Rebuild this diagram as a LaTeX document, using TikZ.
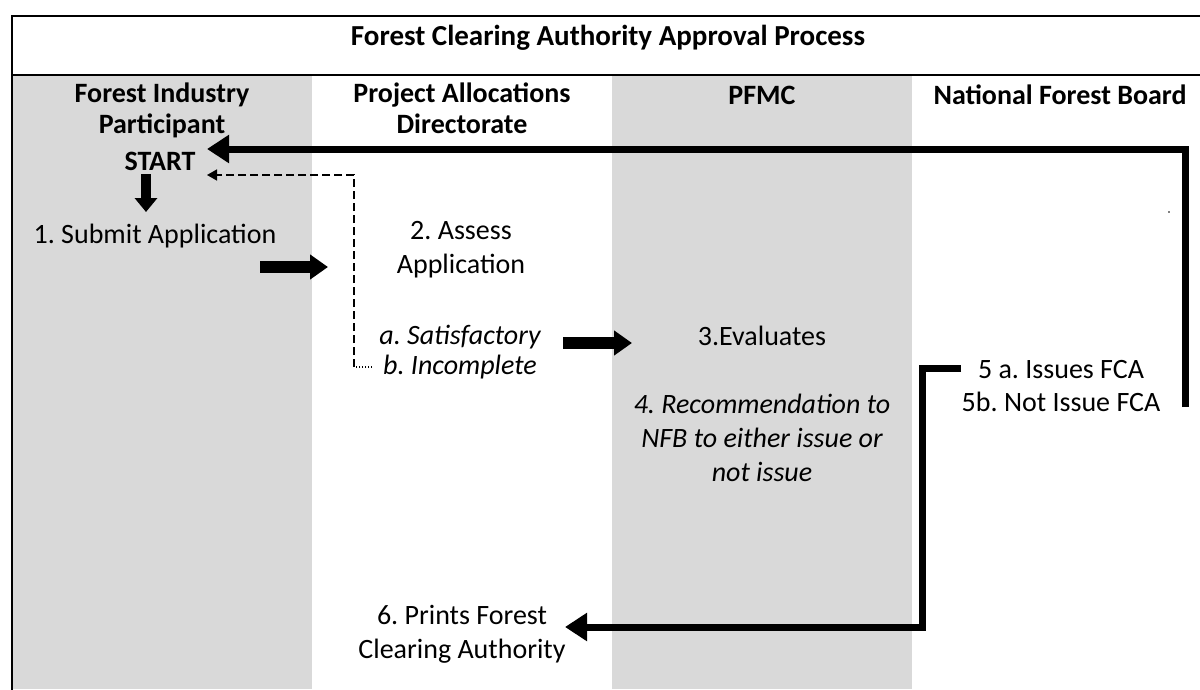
\documentclass[tikz,border=0pt]{standalone}
\usepackage{fontspec}
\setmainfont{Carlito}
\usetikzlibrary{arrows.meta}
\definecolor{lanegrey}{HTML}{D9D9D9}
\frenchspacing
\tikzset{
  txt/.style={font=\fontsize{28}{34}\selectfont, align=center, inner sep=0pt},
  hdr/.style={txt, font=\fontsize{28}{31}\selectfont\bfseries},
  frameline/.style={line width=2.5pt, line cap=rect},
  fatflow/.style={line width=7pt, -{Triangle[length=22pt,width=27pt]}},
  blockarrow/.style={line width=12pt, -{Triangle[length=18pt,width=24pt]}},
  downarrow/.style={line width=10pt, -{Triangle[length=14pt,width=22pt]}},
  backflow/.style={line width=1.5pt, dash pattern=on 8pt off 4pt, -{Triangle[length=10pt,width=11pt]}},
  dotflow/.style={line width=1.2pt, dash pattern=on 1.5pt off 1.5pt}
}
\begin{document}
\begin{tikzpicture}[x=1pt,y=-1pt]
\useasboundingbox (0,0) rectangle (1200,689);
% lanes
\fill[lanegrey] (12,75) rectangle (312,689);
\fill[lanegrey] (612,75) rectangle (912,689);
% frame
\draw[frameline] (1200,16) -- (12,16) -- (12,689);
\draw[frameline] (12,75) -- (1200,75);
% title and headers
\node[hdr, font=\fontsize{29}{31}\selectfont\bfseries, anchor=base] (title) at (608,45) {Forest Clearing Authority Approval Process};
\node[hdr] (h1) at (162,110) {Forest Industry\\Participant};
\node[hdr] (h2) at (462,108.5) {Project Allocations\\Directorate};
\node[hdr, anchor=base] (h3) at (762,104) {PFMC};
\node[hdr, anchor=base] (h4) at (1060,104) {National Forest Board};
\node[hdr, anchor=base] (start) at (160,170) {START};
% steps
\node[txt, anchor=base] (s1) at (155,243) {1. Submit Application};
\node[txt] (s2) at (461,250) {2. Assess\\Application};
\node[txt, font=\fontsize{28}{30}\selectfont\itshape] (s2ab) at (460,352) {a. Satisfactory\\b. Incomplete};
\node[txt, anchor=base] (s3) at (762,345) {3.Evaluates};
\node[txt, font=\fontsize{28}{34}\selectfont\itshape] (s4) at (762,438) {4. Recommendation to\\NFB to either issue or\\not issue};
\node[txt, font=\fontsize{28}{33}\selectfont] (s5) at (1061,386) {5 a. Issues FCA\\5b. Not Issue FCA};
\node[txt] (s6) at (462,634) {6. Prints Forest\\Clearing Authority};
% connector points
\coordinate (downS) at (146,174);
\coordinate (downE) at (146,212);
\coordinate (a12s) at (260,267);
\coordinate (a12e) at (328,267);
\coordinate (a23s) at (563,343);
\coordinate (a23e) at (632,343);
\coordinate (dotS) at (372,367);
\coordinate (dashC) at (354,367);
\coordinate (dashT) at (354,175);
\coordinate (dashE) at (207,175);
\coordinate (topS) at (1185,407);
\coordinate (topC) at (1185,149);
\coordinate (topE) at (207,149);
\coordinate (botS) at (961,368);
\coordinate (botC1) at (922,368);
\coordinate (botC2) at (922,627);
\coordinate (botE) at (565,627);
% connectors
\draw[downarrow] (downS) -- (downE);
\draw[blockarrow] (a12s) -- (a12e);
\draw[blockarrow] (a23s) -- (a23e);
\draw[dotflow] (dotS) -- (dashC);
\draw[backflow] (dashC) -- (dashT) -- (dashE);
\draw[fatflow] (topS) -- (topC) -- (topE);
\draw[fatflow] (botS) -- (botC1) -- (botC2) -- (botE);
\fill (1169,212) circle (0.8pt);
\end{tikzpicture}
\end{document}
